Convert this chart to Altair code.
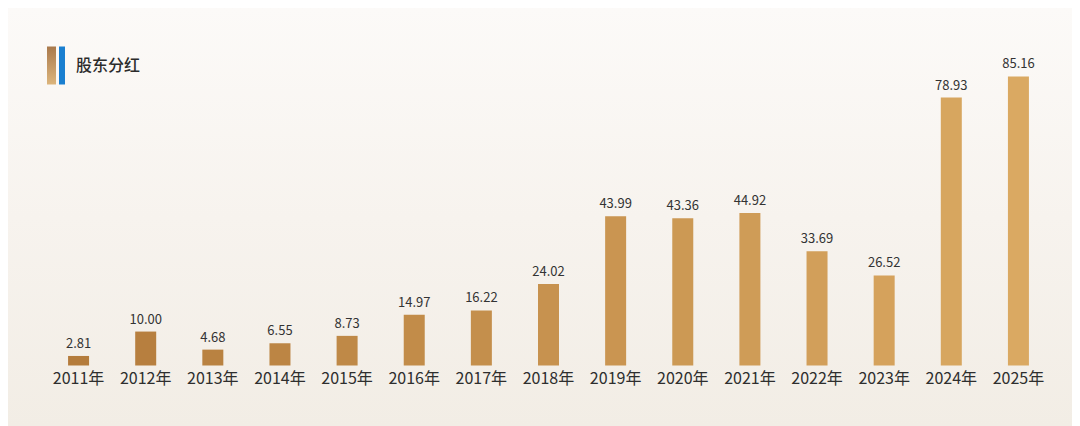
import altair as alt
import pandas as pd

years = [2011, 2012, 2013, 2014, 2015, 2016, 2017, 2018, 2019, 2020, 2021, 2022, 2023, 2024, 2025]
values = [2.81, 10.00, 4.68, 6.55, 8.73, 14.97, 16.22, 24.02, 43.99, 43.36, 44.92, 33.69, 26.52, 78.93, 85.16]
labels = [f"{y}年" for y in years]
title_text = "股东分红"

df = pd.DataFrame({"year": years, "label": labels, "value": values,
                   "text": [f"{v:.2f}" for v in values]})

FONT = "Noto Sans CJK SC"
PLOT_H = 305.5

x = alt.X("label:N", sort=labels, title=None,
          scale=alt.Scale(paddingInner=0.0, paddingOuter=0.0),
          axis=alt.Axis(labelAngle=0, labelFontSize=16, labelColor="#2e2e2e",
                        labelFont=FONT, labelPadding=5, domain=False, ticks=False,
                        grid=False, zindex=2))
y = alt.Y("value:Q", title=None, scale=alt.Scale(domain=[0, 90], nice=False),
          axis=None)

color = alt.Color("year:Q", legend=None,
                  scale=alt.Scale(domain=[2011, 2025], range=["#b47c3c", "#daa962"]))

bg_df = pd.DataFrame({"k": [0]})
background = alt.Chart(bg_df).mark_rect(
    color=alt.Gradient(gradient="linear",
                       stops=[alt.GradientStop(color="#fcfaf8", offset=0),
                              alt.GradientStop(color="#f7f3ee", offset=0.5),
                              alt.GradientStop(color="#f2ede5", offset=1)],
                       x1=0, x2=0, y1=0, y2=1)
).encode(x=alt.value(-37), x2=alt.value(1027), y=alt.value(-52), y2=alt.value(PLOT_H + 61))

bars = alt.Chart(df).mark_bar(size=21).encode(x=x, y=y, color=color)

texts = alt.Chart(df).mark_text(baseline="bottom", dy=-5, fontSize=13,
                                color="#333333", font=FONT).encode(
    x=alt.X("label:N", sort=labels), y="value:Q", text="text:N")

icon1 = alt.Chart(bg_df).mark_rect(
    color=alt.Gradient(gradient="linear",
                       stops=[alt.GradientStop(color="#a9794c", offset=0),
                              alt.GradientStop(color="#dcb57c", offset=1)],
                       x1=0, x2=0, y1=0, y2=1)
).encode(x=alt.value(2), x2=alt.value(11), y=alt.value(-13.5), y2=alt.value(24.5))
icon2 = alt.Chart(bg_df).mark_rect(color="#1a7fd0").encode(
    x=alt.value(14), x2=alt.value(20), y=alt.value(-13.5), y2=alt.value(24.5))
title = alt.Chart(bg_df).mark_text(
    text=title_text, align="left", baseline="middle", fontSize=16,
    fontWeight=500, color="#2b2b2b", font=FONT
).encode(x=alt.value(31), y=alt.value(5.5))

chart = alt.layer(background, bars, texts, icon1, icon2, title).properties(
    width=1007, height=PLOT_H,
    padding={"left": 37, "top": 52, "right": 20, "bottom": 61},
    autosize=alt.AutoSizeParams(type="none"),
    background="#f7f4ef",
).configure_view(stroke=None)

chart.save("out.html", embed_options={"renderer": "svg", "actions": False})
